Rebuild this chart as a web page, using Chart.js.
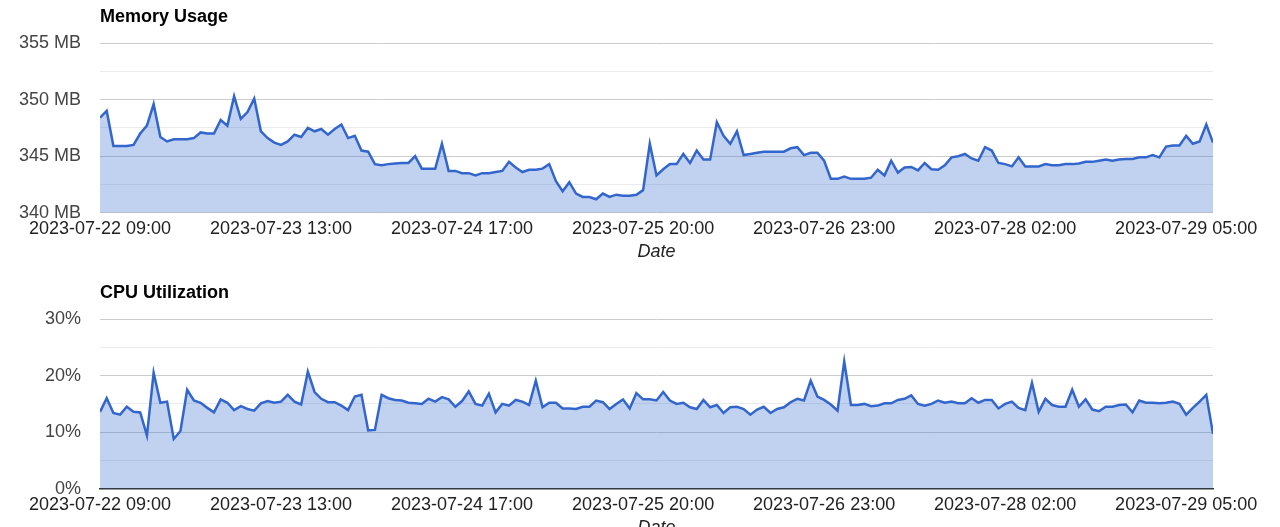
<!DOCTYPE html>
<html>
<head>
<meta charset="utf-8">
<script src="https://cdn.jsdelivr.net/npm/chart.js@4"></script>
<style>
  html, body { margin: 0; padding: 0; background: #fff; overflow: hidden; }
  body { width: 1280px; height: 527px; position: relative; }
  .box { position: absolute; left: 0; width: 1280px; height: 266px; }
</style>
</head>
<body>
<div class="box" style="top:0"><canvas id="mem-chart"></canvas></div>
<div class="box" style="top:276px"><canvas id="cpu-chart"></canvas></div>
<script>
// labels de l'axe X (un tous les 27 points)
const tickLabels = [
  "2023-07-22 09:00",
  "2023-07-23 13:00",
  "2023-07-24 17:00",
  "2023-07-25 20:00",
  "2023-07-26 23:00",
  "2023-07-28 02:00",
  "2023-07-29 05:00",
];
const tickEvery = 27;

// Memoire en MB
const memoryMB = [
  348.4, 349.0, 345.9, 345.9, 345.9, 346.0, 347.0, 347.7, 349.6, 346.7,
  346.3, 346.5, 346.5, 346.5, 346.6, 347.1, 347.0, 347.0, 348.2, 347.7,
  350.3, 348.3, 348.9, 350.1, 347.2, 346.6, 346.2, 346.0, 346.3, 346.9,
  346.7, 347.5, 347.2, 347.4, 346.9, 347.4, 347.8, 346.6, 346.8, 345.5,
  345.4, 344.3, 344.2, 344.3, 344.35, 344.4, 344.4, 345.0, 343.9, 343.9,
  343.9, 346.1, 343.7, 343.7, 343.5, 343.5, 343.3, 343.5, 343.5, 343.6,
  343.7, 344.5, 344.0, 343.6, 343.8, 343.8, 343.9, 344.3, 342.8, 341.9,
  342.7, 341.7, 341.4, 341.4, 341.2, 341.7, 341.4, 341.6, 341.5, 341.5,
  341.6, 342.0, 346.1, 343.3, 343.85, 344.3, 344.3, 345.2, 344.4, 345.5,
  344.7, 344.7, 348.0, 346.8, 346.1, 347.2, 345.1, 345.2, 345.3, 345.4,
  345.4, 345.4, 345.4, 345.7, 345.8, 345.1, 345.3, 345.3, 344.6, 343.0,
  343.0, 343.2, 343.0, 343.0, 343.0, 343.1, 343.8, 343.3, 344.6, 343.55,
  344.0, 344.05, 343.75, 344.4, 343.85, 343.8, 344.2, 344.9, 345.0, 345.2,
  344.8, 344.6, 345.8, 345.5, 344.4, 344.3, 344.1, 344.9, 344.1, 344.1,
  344.1, 344.3, 344.2, 344.2, 344.3, 344.3, 344.35, 344.5, 344.5, 344.6,
  344.7, 344.6, 344.7, 344.75, 344.75, 344.9, 344.9, 345.1, 344.9, 345.85,
  345.95, 345.95, 346.8, 346.1, 346.3, 347.8, 346.2,
];

// CPU en %
const cpuPercent = [
  13.6, 16.0, 13.4, 13.1, 14.5, 13.6, 13.5, 9.4, 20.5, 15.2,
  15.4, 8.8, 10.2, 17.5, 15.6, 15.2, 14.3, 13.5, 15.8, 15.2,
  13.9, 14.6, 14.1, 13.8, 15.1, 15.5, 15.2, 15.4, 16.6, 15.4,
  14.9, 20.7, 17.1, 15.9, 15.3, 15.3, 14.7, 13.9, 16.3, 16.6,
  10.3, 10.4, 16.6, 16.0, 15.7, 15.6, 15.2, 15.1, 15.0, 15.9,
  15.4, 16.2, 15.8, 14.5, 15.5, 17.2, 15.0, 14.7, 16.8, 13.5,
  15.0, 14.7, 15.7, 15.4, 14.8, 19.1, 14.4, 15.2, 15.2, 14.2,
  14.2, 14.1, 14.5, 14.5, 15.6, 15.3, 14.1, 15.0, 15.8, 14.2,
  16.9, 15.8, 15.8, 15.6, 17.1, 15.6, 15.0, 15.2, 14.4, 14.1,
  15.7, 14.4, 14.8, 13.4, 14.4, 14.5, 14.1, 13.1, 14.0, 14.5,
  13.4, 14.1, 14.4, 15.3, 15.9, 15.6, 19.1, 16.3, 15.7, 14.9,
  13.8, 22.5, 14.8, 14.8, 15.0, 14.6, 14.7, 15.1, 15.1, 15.7,
  15.9, 16.5, 15.0, 14.7, 15.0, 15.6, 15.2, 15.4, 15.1, 15.1,
  16.0, 15.2, 15.7, 15.7, 14.2, 15.0, 15.4, 14.3, 13.9, 18.7,
  13.6, 15.9, 14.8, 14.5, 14.5, 17.5, 14.5, 15.8, 14.0, 13.7,
  14.5, 14.5, 14.8, 14.9, 13.5, 15.6, 15.2, 15.2, 15.1, 15.2,
  15.4, 15.0, 13.1, 14.3, 15.4, 16.6, 9.7,
];

const FONT = "'Liberation Sans', Arial, sans-serif";
const LINE = "#3366cc";
const FILL = "rgba(51, 102, 204, 0.3)";

// Fonction pour creer un graphique "aire" facon Google Charts
const makeAreaChart = (id, title, values, yMin, yMax, yStep, majorStep, fmt, baseline) => {
  const points = values.map((v, i) => ({ x: i, y: v }));
  return new Chart(id, {
    type: "line",
    data: {
      datasets: [
        {
          data: points,
          borderColor: LINE,
          borderWidth: 2.5,
          backgroundColor: FILL,
          fill: "start",
          pointRadius: 0,
          tension: 0,
        },
      ],
    },
    options: {
      responsive: true,
      maintainAspectRatio: false,
      animation: false,
      layout: { padding: { left: 0, right: 67, top: 0, bottom: 0 } },
      plugins: {
        legend: { display: false },
        tooltip: { enabled: false },
        title: {
          display: true,
          text: title,
          align: "start",
          fullSize: false,
          color: "#000",
          font: { family: FONT, size: 18, weight: "bold" },
          padding: { top: 6, bottom: 15.4 },
        },
      },
      scales: {
        x: {
          type: "linear",
          min: 0,
          max: values.length - 1,
          afterBuildTicks: (axis) => {
            axis.ticks = tickLabels.map((_, k) => ({ value: k * tickEvery }));
          },
          ticks: {
            autoSkip: false,
            maxRotation: 0,
            padding: 5,
            color: "#222",
            font: { family: FONT, size: 18 },
            callback: (value) => tickLabels[Math.round(value / tickEvery)],
          },
          grid: { display: false, drawTicks: false },
          border: baseline
            ? { display: true, color: "#333", width: 1.5 }
            : { display: false },
          title: {
            display: true,
            text: "Date",
            color: "#222",
            font: { family: FONT, size: 18, style: "italic" },
            padding: { top: -3, bottom: 3 },
          },
        },
        y: {
          min: yMin,
          max: yMax,
          afterFit: (axis) => {
            axis.width = 100;
          },
          ticks: {
            stepSize: yStep,
            padding: 19,
            color: "#444",
            font: { family: FONT, size: 18 },
            callback: (value) => (Math.abs(value % majorStep) < 1e-6 ? fmt(value) : ""),
          },
          grid: {
            drawTicks: false,
            color: (ctx) =>
              Math.abs(ctx.tick.value % majorStep) < 1e-6 ? "#cccccc" : "#ebebeb",
          },
          border: { display: false },
        },
      },
    },
  });
};

makeAreaChart("mem-chart", "Memory Usage", memoryMB, 340, 355, 2.5, 5, (v) => v + " MB", false);
makeAreaChart("cpu-chart", "CPU Utilization", cpuPercent, 0, 30, 5, 10, (v) => v + "%", true);
</script>
</body>
</html>
